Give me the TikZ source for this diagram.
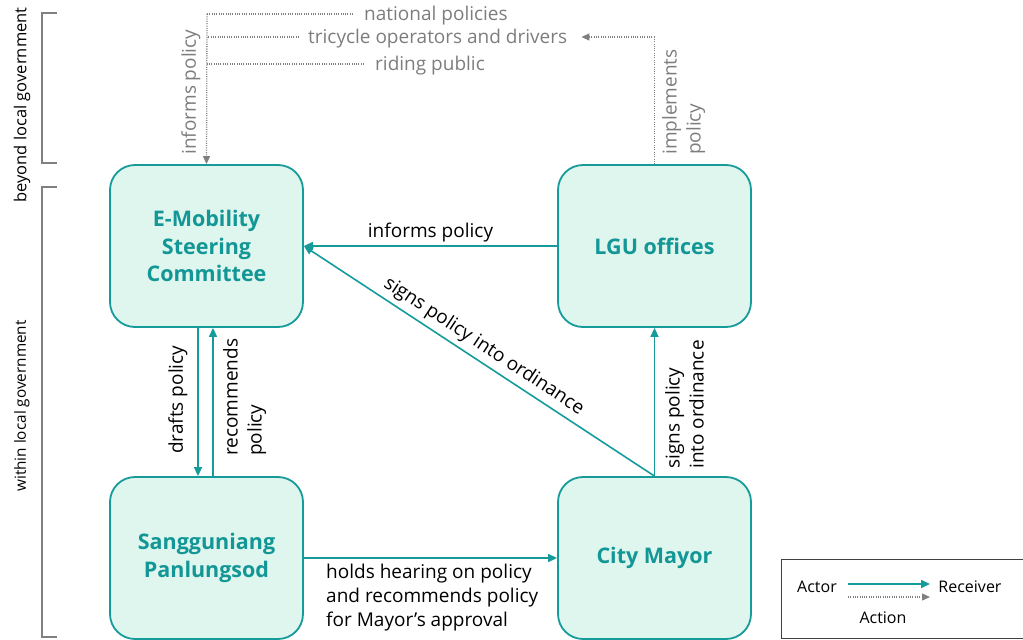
\documentclass[tikz,border=0pt]{standalone}
\usepackage{fontspec}
\setmainfont{Open Sans}
\usetikzlibrary{arrows.meta}
\definecolor{tealline}{RGB}{22,155,155}
\definecolor{tealfill}{RGB}{222,246,237}
\definecolor{tealtext}{RGB}{18,150,150}
\definecolor{greyline}{RGB}{128,128,128}
\definecolor{greytext}{RGB}{125,125,125}
\begin{document}
\begin{tikzpicture}[x=1pt,y=-1pt,
  actorbox/.style={draw=tealline, line width=1.8pt, fill=tealfill, rounded corners=25pt,
    minimum width=193pt, minimum height=162pt, inner sep=0pt, align=center,
    text=tealtext, font=\fontsize{21.5}{27.5}\selectfont\bfseries},
  rel/.style={draw=tealline, line width=1.6pt, -{Triangle[length=9pt,width=8pt]}},
  extrel/.style={draw=greyline, line width=1.3pt, dash pattern=on 1pt off 1.3pt, -{Triangle[length=8pt,width=7pt]}},
  extline/.style={draw=greyline, line width=1.3pt, dash pattern=on 1pt off 1.3pt},
  lbl/.style={font=\fontsize{19}{24}\selectfont, text=black, inner sep=2pt},
  glbl/.style={font=\fontsize{19}{24}\selectfont, text=greytext, inner sep=2pt},
  lgd/.style={font=\fontsize{16}{20}\selectfont, text=black, inner sep=2pt},
  brlbl/.style={text=black, rotate=90},
  bracket/.style={draw=greyline, line width=1.4pt}
]
\useasboundingbox (0,0) rectangle (1023,640);

% actors
\node[actorbox] (emob) at (206.5,246) {E-Mobility\\Steering\\Committee};
\node[actorbox] (lgu) at (654.5,246) {LGU offices};
\node[actorbox] (sp) at (206.5,558) {Sangguniang\\Panlungsod};
\node[actorbox] (mayor) at (654.5,558) {City Mayor};

% within local government relations
\draw[rel] (lgu.west) -- node[lbl, above=1pt] {informs policy} (emob.east);
\draw[rel] (mayor.north) -- (emob.east);
\path (emob.east) -- node[lbl, sloped, above=3pt, pos=0.49] {signs policy into ordinance} (mayor.north);
\draw[rel] (mayor.north) -- (lgu.south);
\node[lbl, rotate=90, align=left, anchor=north west] (sgn) at (663,471) {signs policy\\into ordinance};
\draw[rel] ([xshift=-8.5pt]emob.south) -- ([xshift=-8.5pt]sp.north);
\node[lbl, rotate=90, anchor=west] (drf) at (178,456) {drafts policy};
\draw[rel] ([xshift=6.5pt]sp.north) -- ([xshift=6.5pt]emob.south);
\node[lbl, rotate=90, align=left, anchor=north west] (rec) at (221,458) {recommends\\policy};
\draw[rel] (sp.east) -- (mayor.west);
\node[lbl, align=left, anchor=north west] (hold) at (324,562) {holds hearing on policy\\and recommends policy\\for Mayor’s approval};

% beyond local government
\coordinate (jn) at (207,14);
\coordinate (jt) at (207,37);
\coordinate (jr) at (207,64);
\node[glbl, anchor=west] (nat) at (362,16) {national policies};
\node[glbl, anchor=west] (tri) at (306,39) {tricycle operators and drivers};
\node[glbl, anchor=west] (rid) at (373,66) {riding public};
\coordinate (ne) at ([xshift=-9pt]nat.west);
\coordinate (te) at ([xshift=-7pt]tri.west);
\coordinate (re) at ([xshift=-9pt]rid.west);
\draw[extline] (ne |- jn) -- (jn);
\draw[extline] (te |- jt) -- (jt);
\draw[extline] (re |- jr) -- (jr);
\draw[extrel] (jn) -- (emob.north);
\node[glbl, rotate=90, anchor=west] (inf) at (191,157) {informs policy};
\coordinate (ji) at (654.5,37);
\coordinate (ta) at ([xshift=12pt]tri.east);
\draw[extline] (lgu.north) -- (ji);
\draw[extrel] (ji) -- (ta |- ji);
\node[glbl, rotate=90, align=left, anchor=north west] (imp) at (660,157) {implements\\policy};

% brackets
\draw[bracket] (57,13) -- (42,13) -- (42,163) -- (57,163);
\draw[bracket] (57,187) -- (42,187) -- (42,637) -- (57,637);
\node[brlbl, font=\fontsize{16.5}{20}\selectfont] (beyond) at (22,105) {beyond local government};
\node[brlbl, font=\fontsize{15.3}{18}\selectfont] (within) at (22,406) {within local government};

% legend
\draw[draw=black!75, line width=0.9pt] (1023,559) -- (781,559) -- (781,638) -- (1023,638);
\node[lgd] (actor) at (817,587) {Actor};
\node[lgd] (recv) at (970,587) {Receiver};
\node[lgd] (act) at (883,618) {Action};
\coordinate (la1) at (848,584);
\coordinate (la2) at (930,584);
\coordinate (lb1) at (848,597);
\coordinate (lb2) at (930,597);
\draw[rel] (la1) -- (la2);
\draw[extrel] (lb1) -- (lb2);
\end{tikzpicture}
\end{document}
